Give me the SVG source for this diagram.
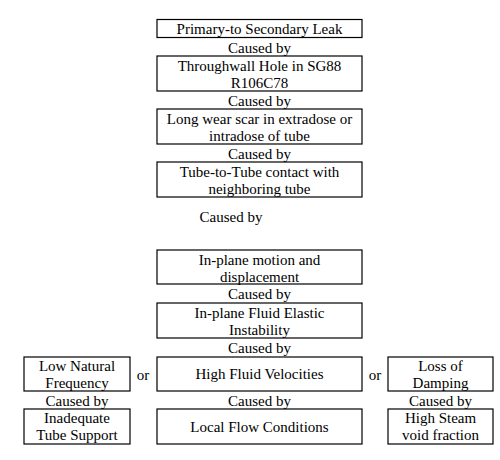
<svg xmlns="http://www.w3.org/2000/svg" width="500" height="460" viewBox="0 0 500 460">
<style>
rect{fill:#fff;stroke:#000;stroke-width:1.2}
text{font-family:"Liberation Serif","Times New Roman",serif;font-size:15px;fill:#000;text-anchor:middle}
</style>
<rect x="0" y="0" width="500" height="460" style="fill:#fff;stroke:none"/>
<g id="n1"><rect x="157" y="19.5" width="205" height="18"/><text x="259.5" y="33.5">Primary-to Secondary Leak</text></g>
<g id="n2"><rect x="157" y="56" width="205" height="35"/><text x="259.5" y="70.5">Throughwall Hole in SG88</text><text x="259.5" y="87.5">R106C78</text></g>
<g id="n3"><rect x="157" y="109" width="205" height="35"/><text x="259.5" y="123.5">Long wear scar in extradose or</text><text x="259.5" y="140.5">intradose of tube</text></g>
<g id="n4"><rect x="157" y="162" width="205" height="35"/><text x="259.5" y="176.5">Tube-to-Tube contact with</text><text x="259.5" y="193.5">neighboring tube</text></g>
<g id="n5"><rect x="157" y="250" width="205" height="34"/><text x="259.5" y="264.5">In-plane motion and</text><text x="259.5" y="281.5">displacement</text></g>
<g id="n6"><rect x="157" y="303" width="205" height="35"/><text x="259.5" y="317.5">In-plane Fluid Elastic</text><text x="259.5" y="334.5">Instability</text></g>
<g id="n7"><rect x="157" y="357" width="205" height="34"/><text x="259.5" y="379">High Fluid Velocities</text></g>
<g id="n8"><rect x="24" y="357" width="106" height="34"/><text x="77" y="370.5">Low Natural</text><text x="77" y="387.5">Frequency</text></g>
<g id="n9"><rect x="388" y="357" width="105" height="34"/><text x="440.5" y="370.5">Loss of</text><text x="440.5" y="387.5">Damping</text></g>
<g id="n10"><rect x="24" y="409" width="106" height="35"/><text x="77" y="422.5">Inadequate</text><text x="77" y="440">Tube Support</text></g>
<g id="n11"><rect x="157" y="409" width="205" height="35"/><text x="259.5" y="431.5">Local Flow Conditions</text></g>
<g id="n12"><rect x="388" y="409" width="105" height="35"/><text x="440.5" y="422.5">High Steam</text><text x="440.5" y="440">void fraction</text></g>
<g id="connectors">
<text x="259.5" y="52.5">Caused by</text>
<text x="259.5" y="105.5">Caused by</text>
<text x="259.5" y="158.5">Caused by</text>
<text x="231" y="221.5">Caused by</text>
<text x="259.5" y="299">Caused by</text>
<text x="259.5" y="352.5">Caused by</text>
<text x="143" y="380">or</text>
<text x="375" y="380">or</text>
<text x="77" y="405.5">Caused by</text>
<text x="259.5" y="405.5">Caused by</text>
<text x="440.5" y="405.5">Caused by</text>
</g>
</svg>
